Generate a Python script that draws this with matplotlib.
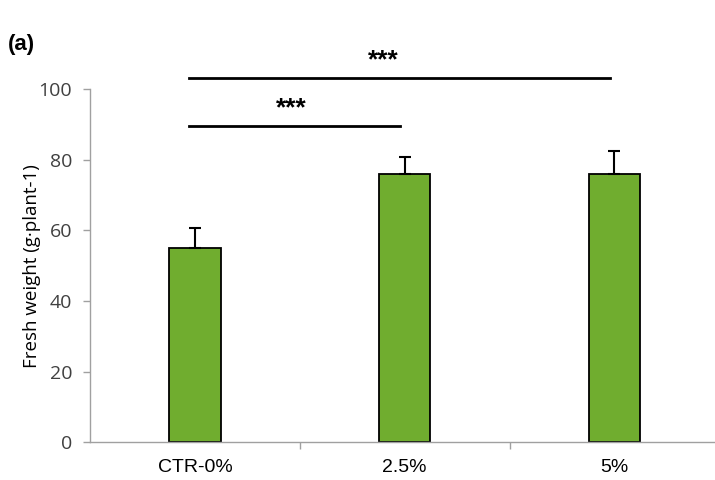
import matplotlib
matplotlib.use("Agg")
import matplotlib.pyplot as plt

categories = ["CTR-0%", "2.5%", "5%"]
values = [55.0, 76.0, 76.0]
errors = [5.7, 4.9, 6.5]
yticks = [0, 20, 40, 60, 80, 100]
sig_pairs = [(0, 1), (0, 2)]
sig_labels = ["***", "***"]
sig_heights = [89.7, 103.3]
sig_label_x = [0.46, 0.90]

fig = plt.figure(figsize=(7.15, 4.8), dpi=100)
ax = fig.add_axes([0.126, 0.0785, 0.88, 0.7355])

x = list(range(len(categories)))
ax.bar(x, values, width=0.245, color="#70AD2F", edgecolor="black", linewidth=1.3, zorder=2)
ax.errorbar(x, values, yerr=[[0] * len(errors), errors], fmt="none", ecolor="black",
            elinewidth=1.5, capsize=4, capthick=1.5, zorder=3)

ax.set_xlim(-0.5, 2.5)
ax.set_ylim(0, 100)
ax.set_yticks(yticks)
ax.set_yticklabels([str(t) for t in yticks], fontfamily="Open Sans", fontsize=14, color="#404040")
ax.set_xticks(x)
ax.set_xticklabels(categories, fontfamily="Liberation Sans", fontsize=14, color="black")
ax.tick_params(axis="x", length=0, pad=12)
ax.set_xticks([0.5, 1.5], minor=True)
ax.tick_params(axis="x", which="minor", length=5, color="#a0a0a0", width=1)
ax.tick_params(axis="y", length=5, color="#a0a0a0", width=1, pad=8)

for s in ["top", "right"]:
    ax.spines[s].set_visible(False)
ax.spines["left"].set_color("#a0a0a0")
ax.spines["bottom"].set_color("#a0a0a0")
ax.spines["left"].set_linewidth(1)
ax.spines["bottom"].set_linewidth(1)

ax.set_ylabel("Fresh weight (g\u00b7plant-1)", fontfamily="Open Sans", fontsize=13.5,
              color="black", labelpad=-2)

for (i, j), lab, h, lx in zip(sig_pairs, sig_labels, sig_heights, sig_label_x):
    ax.plot([i - 0.028, j - 0.022], [h, h], color="black", linewidth=2, clip_on=False)
    ax.text(lx, h + 1.5, lab, ha="center", va="bottom",
            fontsize=19, fontweight="bold", fontfamily="Liberation Sans")

fig.text(0.011, 0.895, "(a)", fontsize=16, fontweight="bold", fontfamily="Liberation Sans")

fig.savefig("out.png", dpi=100)
